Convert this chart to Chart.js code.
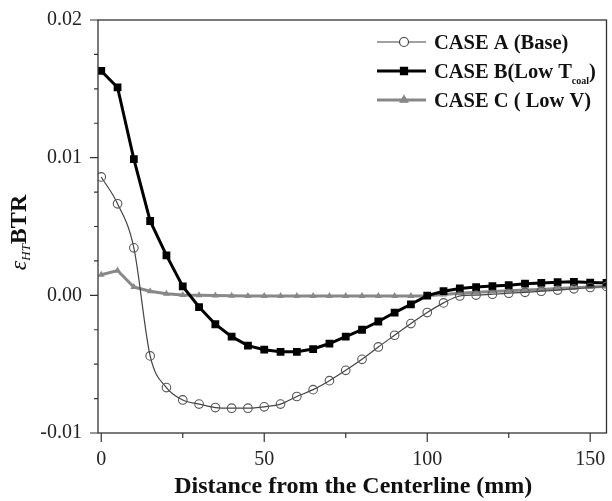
<!DOCTYPE html>
<html>
<head>
<meta charset="utf-8">
<script src="https://cdn.jsdelivr.net/npm/chart.js@4.4.0/dist/chart.umd.min.js"></script>
<style>
html, body { margin: 0; padding: 0; background: #fff; }
</style>
</head>
<body>
<canvas id="mycanvas" width="612" height="501"></canvas>
<script>
// distance from the centerline (mm)
var distance = [0, 5, 10, 15, 20, 25, 30, 35, 40, 45, 50, 55, 60, 65, 70, 75,
                80, 85, 90, 95, 100, 105, 110, 115, 120, 125, 130, 135, 140, 145, 150, 155];

var caseA = [0.0086, 0.00665, 0.00345, -0.0044, -0.0067, -0.0076, -0.0079, -0.00815,
             -0.0082, -0.0082, -0.0081, -0.0079, -0.00735, -0.00685, -0.0062, -0.00545,
             -0.00465, -0.00375, -0.0029, -0.00205, -0.00125, -0.00055, -0.00005, 0.00002,
             0.00008, 0.00015, 0.00022, 0.0003, 0.00038, 0.00047, 0.00057, 0.00065];

var caseB = [0.0163, 0.0151, 0.0099, 0.0054, 0.0029, 0.00065, -0.00085, -0.0021,
             -0.003, -0.00365, -0.00395, -0.0041, -0.0041, -0.0039, -0.0035, -0.003,
             -0.0025, -0.0019, -0.00125, -0.00065, -0.00002, 0.0003, 0.0005, 0.0006,
             0.00067, 0.00074, 0.00085, 0.0009, 0.00095, 0.00098, 0.00093, 0.0009];

var caseC = [0.0015, 0.0018, 0.0006, 0.0003, 0.00012, 0.00003, 0, -0.00002,
             -0.00003, -0.00004, -0.00005, -0.00005, -0.00005, -0.00005, -0.00005, -0.00005,
             -0.00005, -0.00005, -0.00005, -0.00005, -0.00003, 0.00006, 0.00015, 0.00022,
             0.00028, 0.00033, 0.00038, 0.00043, 0.0005, 0.00055, 0.0006, 0.00065];

var seriesNames = ['CASE A (Base)', 'CASE B(Low T', 'CASE C ( Low V)'];
var xMajorTicks = [0, 50, 100, 150];
var xMinorTicks = [25, 75, 125];
var yMajorTicks = [-0.01, 0, 0.01, 0.02];
var yMinorTicks = [-0.0075, -0.005, -0.0025, 0.0025, 0.005, 0.0075, 0.0125, 0.015, 0.0175];

var serif = "'Liberation Serif', 'Times New Roman', serif";

function pts(ys) {
    var out = [];
    for (var i = 0; i < distance.length; i++) {
        out.push({x: distance[i], y: ys[i]});
    }
    return out;
}

var legendStyles = [
    {color: '#444', width: 1.2, pointStyle: 'circle', radius: 4.5, fill: '#fff', border: '#444'},
    {color: '#000', width: 3, pointStyle: 'rect', radius: 5, fill: '#000', border: '#000'},
    {color: '#888', width: 3, pointStyle: 'triangle', radius: 4.5, fill: '#888', border: '#888'}
];

// ticks, frame, legend and axis titles
var decor = {
    id: 'decor',
    afterDraw: function (chart) {
        var ctx = chart.ctx;
        var area = chart.chartArea;
        var xs = chart.scales.x, ys = chart.scales.y;
        ctx.save();
        ctx.strokeStyle = '#333';
        ctx.lineWidth = 1.3;
        ctx.strokeRect(area.left, area.top, area.right - area.left, area.bottom - area.top);

        ctx.lineWidth = 1.2;
        ctx.beginPath();
        xMajorTicks.forEach(function (v) {
            var px = xs.getPixelForValue(v);
            ctx.moveTo(px, area.bottom); ctx.lineTo(px, area.bottom + 9);
        });
        xMinorTicks.forEach(function (v) {
            var px = xs.getPixelForValue(v);
            ctx.moveTo(px, area.bottom); ctx.lineTo(px, area.bottom + 5);
        });
        yMajorTicks.forEach(function (v) {
            var py = ys.getPixelForValue(v);
            ctx.moveTo(area.left, py); ctx.lineTo(area.left - 8, py);
        });
        yMinorTicks.forEach(function (v) {
            var py = ys.getPixelForValue(v);
            ctx.moveTo(area.left, py); ctx.lineTo(area.left - 4, py);
        });
        ctx.stroke();

        // legend
        var lx0 = 377, lx1 = 426, tx = 434;
        var rowY = [42, 71, 100];
        for (var i = 0; i < seriesNames.length; i++) {
            var st = legendStyles[i];
            var y = rowY[i];
            ctx.strokeStyle = st.color;
            ctx.lineWidth = st.width;
            ctx.beginPath();
            ctx.moveTo(lx0, y); ctx.lineTo(lx1, y);
            ctx.stroke();
            ctx.fillStyle = st.fill;
            ctx.strokeStyle = st.border;
            ctx.lineWidth = 1.2;
            Chart.helpers.drawPoint(ctx, {pointStyle: st.pointStyle, radius: st.radius, rotation: 0, borderWidth: 1.2}, 404, y);

            ctx.fillStyle = '#111';
            ctx.textAlign = 'left';
            ctx.textBaseline = 'alphabetic';
            ctx.font = 'bold 20.5px ' + serif;
            ctx.fillText(seriesNames[i], tx, y + 7);
            if (i === 1) {
                var w = ctx.measureText(seriesNames[i]).width;
                ctx.font = 'bold 10px ' + serif;
                ctx.fillText('coal', tx + w, y + 13);
                var w2 = ctx.measureText('coal').width;
                ctx.font = 'bold 20.5px ' + serif;
                ctx.fillText(')', tx + w + w2, y + 7);
            }
        }

        // x title
        ctx.fillStyle = '#111';
        ctx.font = 'bold 24px ' + serif;
        ctx.textAlign = 'center';
        ctx.fillText('Distance from the Centerline (mm)', (area.left + area.right) / 2 + 1, 493);

        // y title, rotated
        ctx.translate(26, (area.top + area.bottom) / 2 + 6);
        ctx.rotate(-Math.PI / 2);
        ctx.textAlign = 'left';
        ctx.font = 'italic 24px ' + serif;
        var wEps = ctx.measureText('\u03b5').width;
        ctx.font = 'italic 13px ' + serif;
        var wHT = ctx.measureText('HT').width;
        ctx.font = 'bold 24px ' + serif;
        var wBTR = ctx.measureText('BTR').width;
        var start = -(wEps + wHT + wBTR) / 2;
        ctx.font = 'italic 24px ' + serif;
        ctx.fillText('\u03b5', start, 0);
        ctx.font = 'italic 13px ' + serif;
        ctx.fillText('HT', start + wEps, 4);
        ctx.font = 'bold 24px ' + serif;
        ctx.fillText('BTR', start + wEps + wHT, 0);
        ctx.restore();
    }
};

var ctx = document.getElementById('mycanvas');

var chart = new Chart(ctx, {
    type: 'line',
    data: {
        datasets: [
            {
                label: seriesNames[0],
                data: pts(caseA),
                borderColor: '#444',
                borderWidth: 1.2,
                cubicInterpolationMode: 'monotone',
                pointStyle: 'circle',
                pointRadius: 4.3,
                pointBorderWidth: 1.1,
                pointBorderColor: '#555',
                pointBackgroundColor: 'rgba(255,255,255,0)'
            },
            {
                label: seriesNames[1],
                data: pts(caseB),
                borderColor: '#000',
                borderWidth: 3,
                pointStyle: 'rect',
                pointRadius: 5.5,
                pointBorderWidth: 0,
                pointBackgroundColor: '#000'
            },
            {
                label: seriesNames[2],
                data: pts(caseC),
                borderColor: '#888',
                borderWidth: 3,
                pointStyle: 'triangle',
                pointRadius: 4,
                pointBorderWidth: 0,
                pointBackgroundColor: '#888'
            }
        ]
    },
    options: {
        responsive: false,
        animation: false,
        devicePixelRatio: 1,
        layout: { padding: { top: 16, right: 4, left: 0, bottom: 0 } },
        plugins: {
            legend: { display: false },
            tooltip: { enabled: false }
        },
        scales: {
            x: {
                type: 'linear',
                min: -1,
                max: 155,
                grid: { display: false, drawTicks: true, tickLength: 10 },
                border: { display: false },
                afterFit: function (scale) { scale.height = 68; },
                afterBuildTicks: function (scale) {
                    scale.ticks = xMajorTicks.map(function (v) { return {value: v}; });
                },
                ticks: {
                    padding: 5,
                    maxRotation: 0,
                    color: '#222',
                    font: { family: serif, size: 20 }
                }
            },
            y: {
                type: 'linear',
                min: -0.01,
                max: 0.02,
                grid: { display: false, drawTicks: true, tickLength: 8 },
                border: { display: false },
                afterFit: function (scale) { scale.width = 98; },
                afterBuildTicks: function (scale) {
                    scale.ticks = yMajorTicks.map(function (v) { return {value: v}; });
                },
                ticks: {
                    padding: 8,
                    color: '#222',
                    font: { family: serif, size: 20 },
                    callback: function (value) { return value.toFixed(2); }
                }
            }
        }
    },
    plugins: [decor]
});
</script>
</body>
</html>
